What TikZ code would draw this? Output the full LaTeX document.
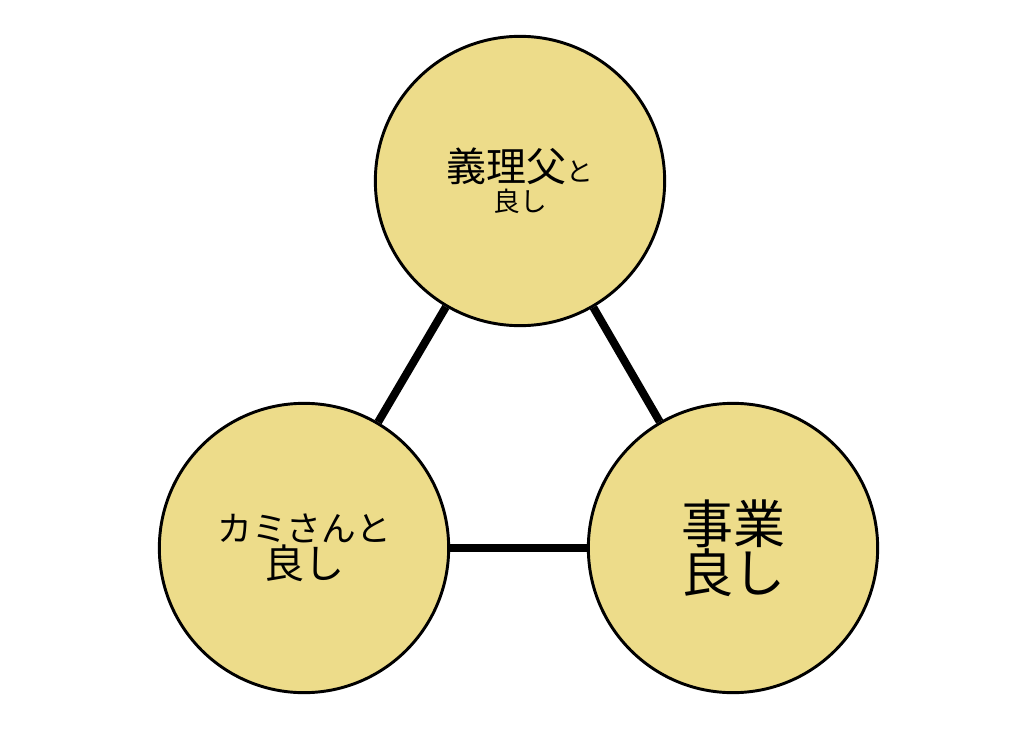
\documentclass[tikz,border=0pt]{standalone}
\usepackage{fontspec}
\newfontfamily\jp{Noto Sans CJK JP}
\definecolor{circfill}{HTML}{EDDC8A}
\tikzset{
  bubble/.style={circle, draw=black, line width=2.2pt, fill=circfill,
    minimum size=217pt, inner sep=0pt, align=center, font=\jp},
  link/.style={line width=6pt}
}
\begin{document}
\begin{tikzpicture}[x=0.75pt,y=-0.75pt]
  \useasboundingbox (0,0) rectangle (1016,731);
  % circles
  \node[bubble] (giri) at (520,181)
    {{\fontsize{30pt}{36pt}\selectfont 義理父}{\fontsize{20pt}{24pt}\selectfont と}\\[2pt]
     {\fontsize{20pt}{24pt}\selectfont 良し}};
  \node[bubble] (kami) at (304,548)
    {{\fontsize{26pt}{34pt}\selectfont カミさんと}\\
     {\fontsize{30pt}{38pt}\selectfont 良し}};
  \node[bubble] (jigyo) at (733,548)
    {{\fontsize{39pt}{48pt}\selectfont 事業}\\
     {\fontsize{39pt}{48pt}\selectfont 良し}};
  % links
  \begin{scope}[on background layer/.try]
  \end{scope}
  \draw[link] (giri) -- (kami);
  \draw[link] (giri) -- (jigyo);
  \draw[link] (kami) -- (jigyo);
\end{tikzpicture}
\end{document}
